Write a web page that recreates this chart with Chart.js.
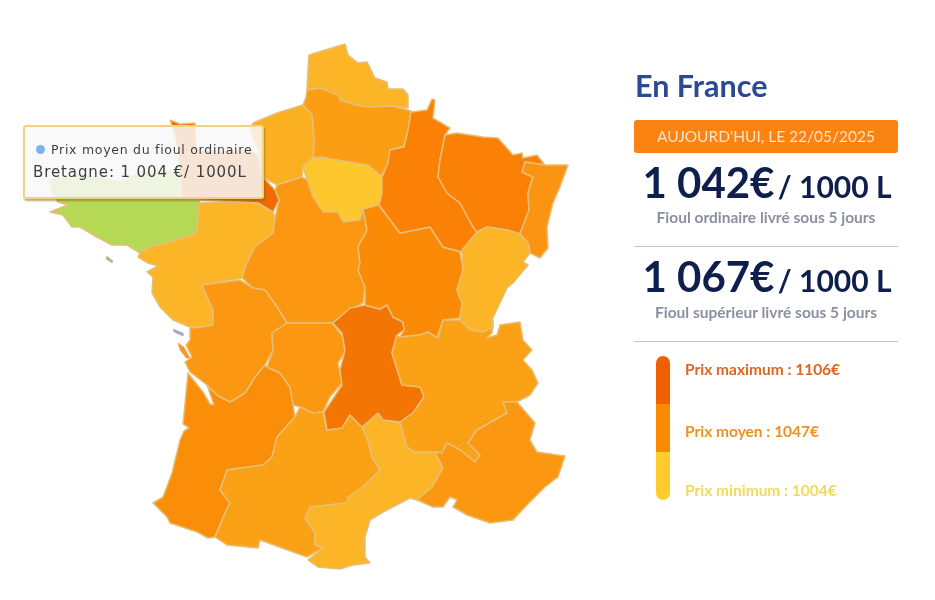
<!DOCTYPE html>
<html lang="fr">
<head>
<meta charset="utf-8">
<title>Prix du fioul en France</title>
<script src="https://cdn.jsdelivr.net/npm/chart.js@4"></script>
<style>
html,body{margin:0;padding:0;background:#fff;overflow:hidden}
#wrap{position:relative;width:935px;height:600px;font-family:Lato,"Open Sans",sans-serif}
canvas{position:absolute;left:0;top:0}
.t{position:absolute;white-space:nowrap;line-height:1}
#title{left:635px;top:70px;font-size:30.5px;font-weight:700;color:#2c4a93}
#date{left:634px;top:120px;width:264px;height:33px;line-height:33px;background:#fb8312;border-radius:3px;color:#fce3c6;font-size:15.5px;text-align:center}
.price{left:635px;width:264px;text-align:center;color:#0f1f4d;font-weight:700;font-size:42px}
.price span{font-size:30px;font-weight:700;margin-left:-4px}
.cap{left:634px;width:264px;text-align:center;color:#8b909e;font-size:15.5px;font-weight:700}
.rule{position:absolute;left:634px;width:264px;height:1px;background:#c3c5ca}
#bar{position:absolute;left:656px;top:356px;width:14px;height:144px;border-radius:7px;overflow:hidden}
#bar div{height:48px}
.lg{left:685px;font-size:15.5px;font-weight:700}
#tip{position:absolute;left:23px;top:125px;width:237px;height:70px;border:2px solid #f1d27f;border-radius:3px;background:rgba(248,248,248,.86);box-shadow:1px 2px 2px rgba(120,100,30,.55);font-family:"DejaVu Sans",sans-serif;color:#3d3f42}
#tip i{position:absolute;left:11px;top:18px;width:9px;height:9px;border-radius:50%;background:#7cb5ec}
#tip .a{position:absolute;left:26px;top:15px;font-size:12.5px;letter-spacing:.72px;white-space:nowrap}
#tip .b{position:absolute;left:8px;top:36px;font-size:15px;letter-spacing:.9px;white-space:nowrap}
</style>
</head>
<body>
<div id="wrap">
<canvas id="map" width="935" height="600"></canvas>
<div id="title" class="t"></div>
<div id="date" class="t"></div>
<div class="t price" style="top:161px" id="p1"></div>
<div class="t cap" style="top:210px" id="c1"></div>
<div class="rule" style="top:246px"></div>
<div class="t price" style="top:255px" id="p2"></div>
<div class="t cap" style="top:305px" id="c2"></div>
<div class="rule" style="top:341px"></div>
<div id="bar"><div style="background:#ef6003"></div><div style="background:#fb8a00"></div><div style="background:#ffcb2e"></div></div>
<div class="t lg" style="top:362px;color:#e0651f" id="l1"></div>
<div class="t lg" style="top:424px;color:#ec9220" id="l2"></div>
<div class="t lg" style="top:483px;color:#f1d95c" id="l3"></div>
<div id="tip"><i></i><div class="a" id="ta"></div><div class="b" id="tb"></div></div>
</div>
<script>
const nordPasDeCalais=[[309,55],[345,44],[348,55],[358,63],[367,62],[375,78],[387,82],[388,89],[403,89],[408,95],[408,108],[393,106],[370,107],[355,105],[340,100],[338,95],[320,88],[307,90],[308,70]];
const picardie=[[307,90],[320,88],[338,95],[340,100],[355,105],[370,107],[393,106],[411,111],[408,130],[404,146],[390,150],[388,165],[381,176],[368,165],[355,165],[335,160],[322,157],[313,158],[314,140],[312,115],[303,105],[306,97]];
const hauteNormandie=[[253,123],[277,113],[303,105],[312,115],[314,140],[313,158],[303,167],[302,177],[277,185],[263,177],[258,150],[250,130]];
const basseNormandie=[[170,120],[180,124],[195,123],[197,150],[225,152],[250,150],[258,155],[263,177],[275,190],[279,200],[273,212],[258,203],[240,202],[200,200],[182,197],[178,150],[172,125]];
const bretagne=[[50,180],[80,174],[120,182],[140,172],[180,170],[183,193],[200,193],[199,203],[197,233],[167,243],[150,247],[140,253],[127,245],[112,245],[97,237],[80,227],[72,227],[63,215],[50,212],[68,205],[58,202],[52,192]];
const paysDeLoire=[[197,233],[199,203],[240,202],[258,203],[273,212],[275,218],[273,233],[255,247],[245,267],[242,278],[213,283],[202,285],[213,310],[213,325],[202,327],[190,327],[173,320],[160,307],[152,293],[153,277],[147,272],[158,266],[148,263],[138,257],[140,253],[150,247],[167,243]];
const iledeFrance=[[303,167],[313,157],[337,160],[368,165],[382,177],[382,193],[378,207],[363,208],[360,220],[343,222],[338,212],[323,212],[313,197],[307,180]];
const centre=[[277,185],[302,177],[307,180],[313,197],[323,212],[338,212],[343,222],[360,220],[363,209],[367,230],[358,247],[360,263],[365,287],[363,303],[347,312],[332,323],[287,323],[277,307],[265,290],[253,288],[242,278],[245,267],[255,247],[273,233],[275,218],[279,200],[275,190]];
const aquitaine=[[267,367],[280,373],[290,387],[293,405],[295,417],[277,437],[272,457],[263,465],[227,470],[220,490],[230,503],[225,513],[215,537],[208,538],[197,532],[170,523],[167,517],[153,503],[163,497],[172,473],[180,440],[184,431],[189,428],[183,424],[188,373],[203,392],[210,404],[214,405],[207,385],[217,395],[230,402],[245,393],[255,377],[265,365]];
const poitouCharentes=[[202,285],[240,280],[253,288],[265,290],[277,307],[287,323],[272,333],[273,350],[265,365],[255,377],[245,393],[230,402],[217,395],[207,385],[190,372],[185,362],[192,357],[186,345],[190,340],[190,328],[202,327],[213,325],[213,310]];
const limousin=[[287,323],[332,323],[343,337],[345,352],[338,363],[342,383],[330,397],[323,412],[313,413],[300,407],[293,405],[290,387],[280,373],[267,367],[273,350],[272,333]];
const midiPyrenees=[[295,417],[300,407],[313,413],[323,412],[327,430],[338,428],[350,415],[362,427],[368,440],[372,457],[380,470],[363,487],[348,497],[347,503],[310,507],[305,518],[315,533],[315,545],[323,548],[307,557],[293,552],[260,540],[258,548],[227,545],[215,537],[225,513],[230,503],[220,490],[227,470],[263,465],[272,457],[277,437]];
const languedoc=[[362,427],[378,413],[383,420],[400,423],[407,447],[415,452],[435,452],[443,468],[432,487],[417,500],[410,498],[383,512],[370,520],[365,537],[365,557],[370,563],[353,565],[340,569],[318,567],[308,560],[323,548],[315,545],[315,533],[305,518],[310,507],[347,503],[348,497],[363,487],[380,470],[372,457],[368,440]];
const auvergne=[[333,323],[350,308],[365,305],[380,309],[387,305],[393,317],[403,322],[404,330],[397,335],[392,353],[402,385],[420,387],[424,397],[413,413],[400,422],[383,420],[378,413],[362,427],[350,415],[342,428],[327,430],[324,412],[342,385],[340,370],[345,350],[342,333]];
const bourgogne=[[363,209],[379,205],[400,233],[430,227],[443,247],[460,252],[463,270],[457,290],[462,303],[460,318],[443,320],[437,338],[428,332],[420,335],[400,337],[404,330],[403,322],[393,317],[387,305],[380,309],[365,305],[365,287],[358,270],[360,263],[358,247],[367,230]];
const champagne=[[411,112],[427,110],[432,99],[435,100],[433,118],[450,128],[445,135],[440,160],[438,177],[447,193],[460,203],[473,227],[477,232],[472,243],[462,252],[443,247],[430,227],[400,233],[379,205],[382,193],[382,177],[388,163],[390,150],[404,147],[408,130]];
const lorraine=[[445,135],[457,133],[470,135],[483,137],[498,138],[513,155],[522,153],[523,158],[537,155],[545,165],[525,162],[522,172],[533,177],[528,193],[529,210],[520,234],[507,230],[487,227],[477,232],[473,227],[460,203],[447,193],[438,177],[440,160]];
const alsace=[[545,165],[568,165],[560,187],[553,203],[547,227],[548,248],[540,258],[530,253],[528,243],[520,234],[529,210],[528,193],[533,177],[522,172],[525,162]];
const francheComte=[[462,250],[477,232],[487,227],[507,230],[520,234],[528,243],[530,253],[523,262],[528,265],[513,283],[507,288],[492,320],[493,327],[483,332],[470,330],[460,320],[462,303],[457,290],[463,270]];
const rhoneAlpes=[[438,338],[443,320],[460,320],[470,330],[483,332],[493,327],[492,333],[487,338],[497,335],[500,325],[520,322],[523,340],[532,350],[523,360],[532,370],[538,383],[530,395],[517,402],[503,402],[507,413],[477,430],[468,443],[480,455],[475,462],[460,450],[447,443],[442,453],[435,452],[415,452],[407,447],[400,422],[413,413],[424,397],[420,387],[402,385],[392,353],[397,335],[400,337],[420,335],[428,332]];
const paca=[[517,402],[535,423],[530,440],[537,452],[565,456],[558,477],[545,487],[527,505],[513,520],[490,523],[467,515],[453,507],[457,500],[450,497],[443,507],[433,507],[417,500],[432,487],[443,468],[435,452],[442,453],[447,443],[460,450],[475,462],[480,455],[468,443],[477,430],[507,413],[503,402]];
const ileDeRe=[[173,329],[183,333],[183,336],[174,332]];
const ileDOleron=[[178,343],[184,347],[190,358],[186,358],[180,350]];
const belleIle=[[107,256],[113,261],[112,263],[106,259]];

const regionNames=["Nord-Pas-de-Calais","Picardie","Haute-Normandie","Bretagne","Pays de la Loire","Île-de-France","Centre","Aquitaine","Poitou-Charentes","Limousin","Midi-Pyrénées","Languedoc-Roussillon","Auvergne","Bourgogne","Champagne-Ardenne","Lorraine","Alsace","Franche-Comté","Rhône-Alpes","PACA","Basse-Normandie","Île de Ré","Île d'Oléron","Belle-Île"];
const regionShapes=[nordPasDeCalais,picardie,hauteNormandie,bretagne,paysDeLoire,iledeFrance,centre,aquitaine,poitouCharentes,limousin,midiPyrenees,languedoc,auvergne,bourgogne,champagne,lorraine,alsace,francheComte,rhoneAlpes,paca,basseNormandie,ileDeRe,ileDOleron,belleIle];
const regionColors=["#fbb526","#fb9e13","#fbb022","#b6d955","#fbb526","#fdc72d","#fb9710","#fb8e08","#fb9710","#fb9710","#faa115","#fbb526","#f37504","#fb8a06","#fb8106","#fb8106","#fb9412","#fbb526","#faa115","#fb9710","#f26a04","#a3a7c4","#f09a3a","#a9b98a"];

const pageTitle="En France";
const dateLabel="AUJOURD'HUI, LE 22/05/2025";
const priceValues=["1 042€","1 067€"];
const priceUnit=" / 1000 L";
const priceCaptions=["Fioul ordinaire livré sous 5 jours","Fioul supérieur livré sous 5 jours"];
const legendLabels=["Prix maximum : 1106€","Prix moyen : 1047€","Prix minimum : 1004€"];
const tooltipLines=["Prix moyen du fioul ordinaire","Bretagne: 1 004 €/ 1000L"];

const $=id=>document.getElementById(id);
$("title").textContent=pageTitle;
$("date").textContent=dateLabel;
["p1","p2"].forEach((id,i)=>{$(id).innerHTML=priceValues[i]+"<span>"+priceUnit+"</span>";});
["c1","c2"].forEach((id,i)=>{$(id).textContent=priceCaptions[i];});
["l1","l2","l3"].forEach((id,i)=>{$(id).textContent=legendLabels[i];});
$("ta").textContent=tooltipLines[0];
$("tb").textContent=tooltipLines[1];

new Chart($("map"),{
  type:"scatter",
  data:{datasets:regionShapes.map((shape,i)=>({
    label:regionNames[i],
    data:shape.concat([shape[0]]).map(p=>({x:p[0],y:p[1]})),
    showLine:true,
    fill:"shape",
    tension:0,
    backgroundColor:regionColors[i],
    borderColor:i>=21?regionColors[i]:"#e7be76",
    borderWidth:i>=21?0.5:1.5,
    borderJoinStyle:"round",
    pointRadius:0,
    order:regionShapes.length-i
  }))},
  options:{
    responsive:false,
    animation:false,
    layout:{padding:0},
    events:[],
    plugins:{legend:{display:false},tooltip:{enabled:false},title:{display:false}},
    scales:{
      x:{type:"linear",min:0,max:935,display:false},
      y:{type:"linear",min:0,max:600,reverse:true,display:false}
    }
  }
});
</script>
</body>
</html>
